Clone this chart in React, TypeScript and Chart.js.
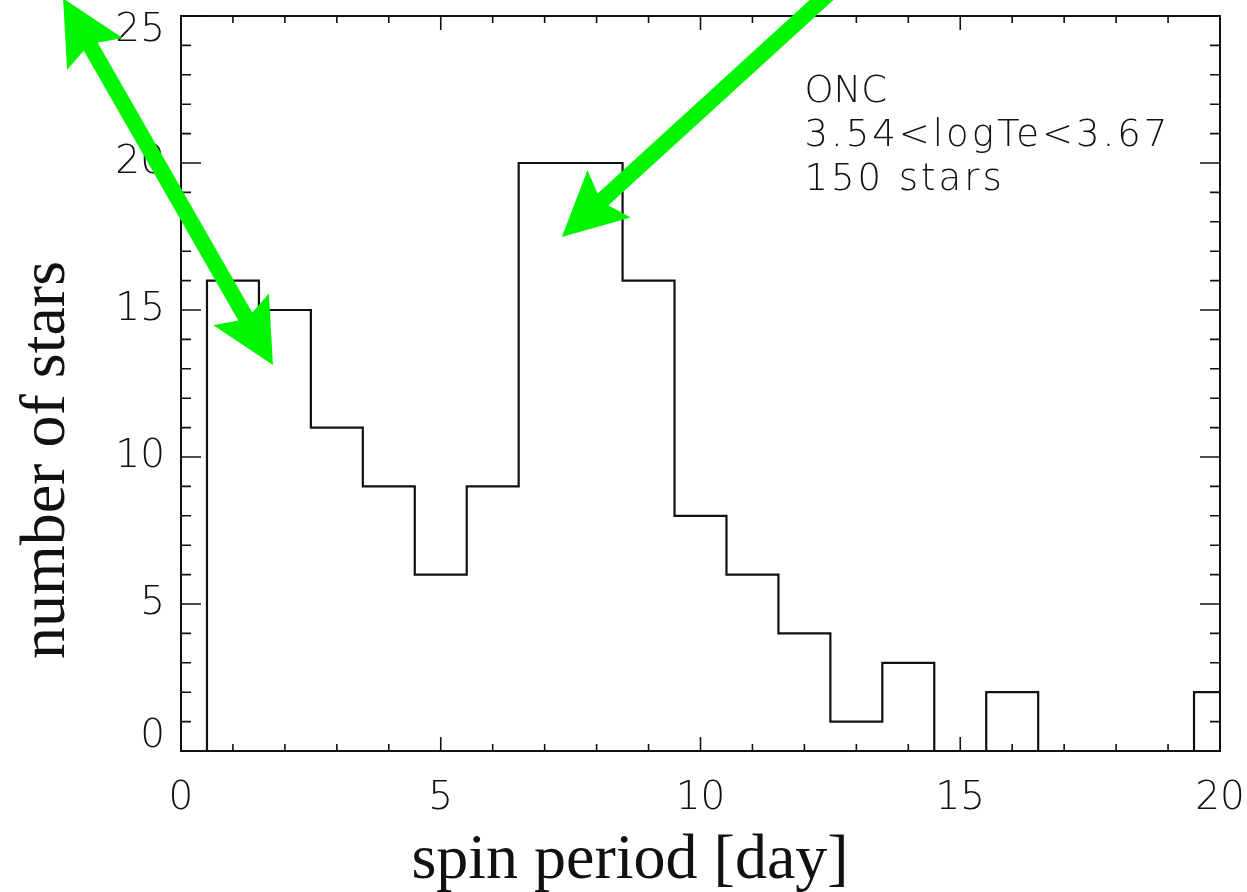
import React, { useEffect, useRef } from 'react';
import { Chart, registerables } from 'chart.js';

Chart.register(...registerables);

// ---- data ----
const binStarts = [0.5, 1.5, 2.5, 3.5, 4.5, 5.5, 6.5, 7.5, 8.5, 9.5, 10.5, 11.5, 12.5, 13.5, 14.5, 15.5, 16.5, 17.5, 18.5, 19.5];
const starCounts = [16, 15, 11, 9, 6, 9, 20, 20, 16, 8, 6, 4, 1, 3, 0, 2, 0, 0, 0, 2];
const rangeEnd = 20;
const xRange = [0, 20];
const yRange = [0, 25];
const annotationLines = ['ONC', '3.54<logTe<3.67', '150 stars'];
const xTitle = 'spin period [day]';
const yTitle = 'number of stars';
// arrows in data coordinates
const arrowFrom = [{ x: -2.27, y: 25.6 }, { x: 12.55, y: 25.9 }];
const arrowTo = [{ x: 1.77, y: 13.13 }, { x: 7.33, y: 17.48 }];
const arrowDouble = [true, false];

const INK = '#111111';
const GREEN = '#00f500';
const TICK_FONT = '"DejaVu Sans"';

function drawArrowHead(ctx: CanvasRenderingContext2D, tip: { x: number; y: number }, dx: number, dy: number) {
  const L = 64, W = 32, notch = 11;
  const px = -dy, py = dx;
  ctx.beginPath();
  ctx.moveTo(tip.x, tip.y);
  ctx.lineTo(tip.x - dx * L + px * W, tip.y - dy * L + py * W);
  ctx.lineTo(tip.x - dx * (L - notch), tip.y - dy * (L - notch));
  ctx.lineTo(tip.x - dx * L - px * W, tip.y - dy * L - py * W);
  ctx.closePath();
  ctx.fill();
}

const decorPlugin = {
  id: 'decor',
  afterDraw(chart: any) {
    const ctx: CanvasRenderingContext2D = chart.ctx;
    const xs = chart.scales.x;
    const ys = chart.scales.y;
    const a = chart.chartArea;
    ctx.save();
    // frame
    ctx.strokeStyle = INK;
    ctx.lineWidth = 2;
    ctx.strokeRect(a.left, a.top, a.right - a.left, a.bottom - a.top);
    // ticks on all four sides
    ctx.lineWidth = 1.6;
    ctx.beginPath();
    for (let v = xRange[0]; v <= xRange[1]; v += 1) {
      const p = xs.getPixelForValue(v);
      const len = v % 5 === 0 ? 14 : 7;
      ctx.moveTo(p, a.bottom); ctx.lineTo(p, a.bottom - len);
      ctx.moveTo(p, a.top); ctx.lineTo(p, a.top + len);
    }
    for (let v = yRange[0]; v <= yRange[1]; v += 1) {
      const p = ys.getPixelForValue(v);
      const len = v % 5 === 0 ? 20 : 10;
      ctx.moveTo(a.left, p); ctx.lineTo(a.left + len, p);
      ctx.moveTo(a.right, p); ctx.lineTo(a.right - len, p);
    }
    ctx.stroke();

    // annotation text
    ctx.fillStyle = INK;
    ctx.font = `200 37px ${TICK_FONT}`;
    ctx.textAlign = 'left';
    ctx.textBaseline = 'alphabetic';
    const tx = xs.getPixelForValue(12);
    annotationLines.forEach((s, i) => {
      (ctx as any).letterSpacing = i === 0 ? '0px' : '3px';
      ctx.fillText(s, tx, a.top + 86 + i * 44);
    });
    (ctx as any).letterSpacing = '0px';

    // axis titles
    ctx.font = '64px "Liberation Serif"';
    ctx.textAlign = 'center';
    ctx.fillText(xTitle, 630, 878);
    ctx.save();
    ctx.translate(64, 460);
    ctx.rotate(-Math.PI / 2);
    ctx.fillText(yTitle, 0, 0);
    ctx.restore();

    // arrows
    ctx.fillStyle = GREEN;
    ctx.strokeStyle = GREEN;
    ctx.lineWidth = 16;
    ctx.lineCap = 'butt';
    for (let i = 0; i < arrowFrom.length; i++) {
      const f = { x: xs.getPixelForValue(arrowFrom[i].x), y: ys.getPixelForValue(arrowFrom[i].y) };
      const t = { x: xs.getPixelForValue(arrowTo[i].x), y: ys.getPixelForValue(arrowTo[i].y) };
      const len = Math.hypot(t.x - f.x, t.y - f.y);
      const dx = (t.x - f.x) / len, dy = (t.y - f.y) / len;
      const back = 50;
      const s0 = arrowDouble[i] ? { x: f.x + dx * back, y: f.y + dy * back } : f;
      const s1 = { x: t.x - dx * back, y: t.y - dy * back };
      ctx.beginPath();
      ctx.moveTo(s0.x, s0.y);
      ctx.lineTo(s1.x, s1.y);
      ctx.stroke();
      drawArrowHead(ctx, t, dx, dy);
      if (arrowDouble[i]) drawArrowHead(ctx, f, -dx, -dy);
    }
    ctx.restore();
  },
};

export default function App() {
  const ref = useRef<HTMLCanvasElement>(null);
  useEffect(() => {
    document.body.style.margin = '0';
    const points = [{ x: binStarts[0], y: 0 }]
      .concat(binStarts.map((x, i) => ({ x, y: starCounts[i] })))
      .concat([{ x: rangeEnd, y: starCounts[starCounts.length - 1] }]);
    const chart = new Chart(ref.current!, {
      type: 'line',
      data: {
        datasets: [
          {
            data: points,
            stepped: 'before',
            borderColor: INK,
            borderWidth: 2.2,
            pointRadius: 0,
            fill: false,
          } as any,
        ],
      },
      options: {
        animation: false,
        responsive: true,
        maintainAspectRatio: false,
        layout: { padding: { left: 0, top: 16, right: 27, bottom: 0 } },
        plugins: { legend: { display: false }, tooltip: { enabled: false } },
        scales: {
          x: {
            type: 'linear',
            min: xRange[0],
            max: xRange[1],
            grid: { display: false, drawTicks: false },
            border: { display: false },
            ticks: {
              stepSize: 5,
              padding: 24,
              color: INK,
              font: { family: TICK_FONT, size: 39, weight: 200 as any },
              maxRotation: 0,
            },
            afterFit: (s: any) => { s.height = 141; s.paddingLeft = 0; s.paddingRight = 0; },
          },
          y: {
            type: 'linear',
            min: yRange[0],
            max: yRange[1],
            grid: { display: false, drawTicks: false },
            border: { display: false },
            ticks: {
              stepSize: 5,
              padding: 16,
              color: INK,
              font: { family: TICK_FONT, size: 39, weight: 200 as any, lineHeight: 0.75 },
              callback: (v: any) => (v === yRange[1] ? ['', String(v)] : v === yRange[0] ? [String(v), ''] : String(v)),
            },
            afterFit: (s: any) => { s.width = 181; s.paddingTop = 0; s.paddingBottom = 0; },
          },
        },
      },
      plugins: [decorPlugin],
    });
    return () => chart.destroy();
  }, []);
  return (
    <div style={{ position: 'fixed', left: 0, top: 0, width: 1247, height: 892, background: '#fff' }}>
      <canvas ref={ref} />
    </div>
  );
}
